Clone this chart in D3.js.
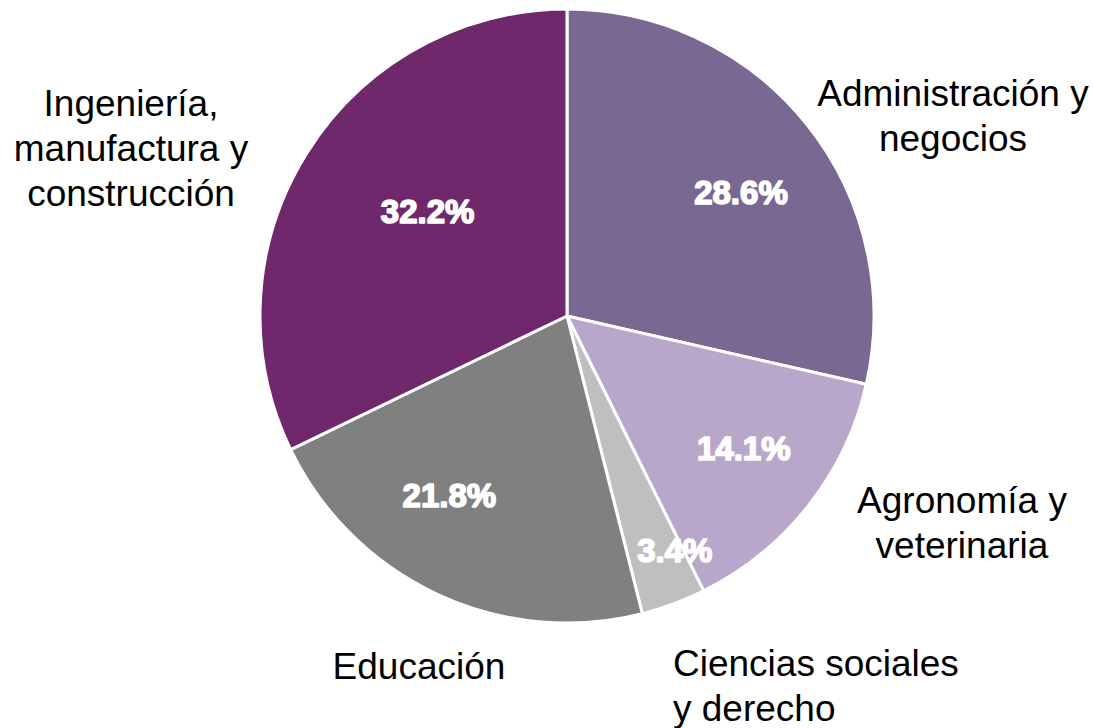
<!DOCTYPE html>
<html>
<head>
<meta charset="utf-8">
<script src="https://cdn.jsdelivr.net/npm/d3@7"></script>
<style>
  body { margin: 0; background: #fff; }
  svg { display: block; }
</style>
</head>
<body>
<div id="chart"></div>
<script>
const categories = ["Administración y negocios", "Agronomía y veterinaria", "Ciencias sociales y derecho", "Educación", "Ingeniería, manufactura y construcción"];
const values = [28.6, 14.1, 3.4, 21.8, 32.2];
const valueLabels = ["28.6%", "14.1%", "3.4%", "21.8%", "32.2%"];
const labelLines = [
    ["Administración y", "negocios"],
    ["Agronomía y", "veterinaria"],
    ["Ciencias sociales", "y derecho"],
    ["Educación"],
    ["Ingeniería,", "manufactura y", "construcción"]
];
const colors = ["#796892", "#b8a7cb", "#bfbfbf", "#808080", "#6f286c"];

const width = 1093, height = 728;
const cx = 567, cy = 316, radius = 307;

// value label placement: fraction of radius and angle nudge (degrees)
const labelRadius = [0.694, 0.72, 0.84, 0.70, 0.567];
const labelNudge = [3.3, -1.3, -4.4, 8.2, 4.7];
// outside category label anchors
const outside = [
    { x: 953, y: 93, anchor: "middle" },
    { x: 962, y: 500, anchor: "middle" },
    { x: 673, y: 663, anchor: "start" },
    { x: 419, y: 666, anchor: "middle" },
    { x: 131, y: 103, anchor: "middle" }
];
const lineHeight = 45;

const svg = d3.select("#chart").append("svg")
    .attr("width", width)
    .attr("height", height);

const g = svg.append("g").attr("transform", `translate(${cx},${cy})`);

const pie = d3.pie().sort(null).value(d => d);
const arcs = pie(values);

const arc = d3.arc().innerRadius(0).outerRadius(radius);

g.selectAll("path.slice")
    .data(arcs)
    .enter()
    .append("path")
    .attr("class", "slice")
    .attr("d", arc)
    .attr("fill", (d, i) => colors[i])
    .attr("stroke", "#fff")
    .attr("stroke-width", 3)
    .attr("stroke-linejoin", "round");

g.selectAll("text.value")
    .data(arcs)
    .enter()
    .append("text")
    .attr("class", "value")
    .attr("transform", (d, i) => {
        const a = (d.startAngle + d.endAngle) / 2 + labelNudge[i] * Math.PI / 180;
        const r = radius * labelRadius[i];
        return `translate(${Math.sin(a) * r},${-Math.cos(a) * r})`;
    })
    .attr("text-anchor", "middle")
    .attr("dominant-baseline", "central")
    .attr("font-family", "Liberation Sans, Arial, sans-serif")
    .attr("font-weight", "bold")
    .attr("font-size", 33)
    .attr("fill", "#fff")
    .attr("stroke", "#fff")
    .attr("stroke-width", 1.6)
    .attr("stroke-linejoin", "round")
    .text((d, i) => valueLabels[i]);

categories.forEach((c, i) => {
    const t = svg.append("text")
        .attr("x", outside[i].x)
        .attr("y", outside[i].y)
        .attr("text-anchor", outside[i].anchor)
        .attr("dominant-baseline", "central")
        .attr("font-family", "Liberation Sans, Arial, sans-serif")
        .attr("font-size", 37)
        .attr("fill", "#000");
    labelLines[i].forEach((line, j) => {
        t.append("tspan")
            .attr("x", outside[i].x)
            .attr("y", outside[i].y + j * lineHeight)
            .text(line);
    });
});
</script>
</body>
</html>
